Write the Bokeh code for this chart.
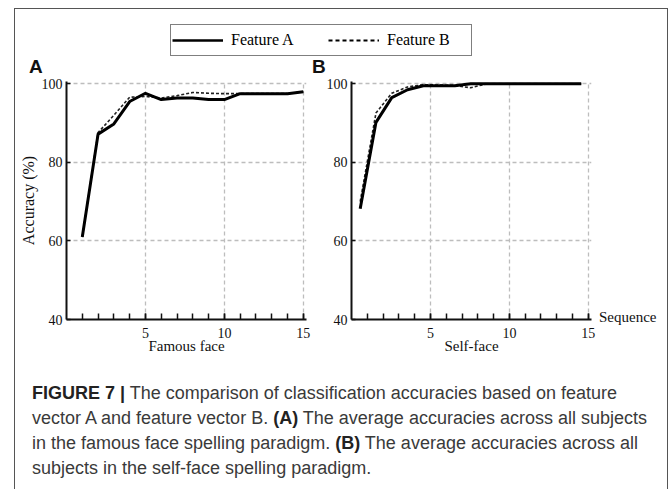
from bokeh.plotting import figure
from bokeh.models import Range1d, FixedTicker, Legend, LegendItem, Div, Spacer
from bokeh.layouts import column, row
from bokeh.embed import file_html
from bokeh.resources import INLINE

# ---- data ----
seq = [1, 2, 3, 4, 5, 6, 7, 8, 9, 10, 11, 12, 13, 14, 15]
seq_self = [0.55, 1.55, 2.55, 3.55, 4.55, 5.55, 6.55, 7.55, 8.55, 9.55, 10.55, 11.55, 12.55, 13.55, 14.55]
famous_a = [61.0, 87.2, 89.8, 95.5, 97.6, 96.0, 96.4, 96.4, 96.0, 96.0, 97.5, 97.5, 97.5, 97.5, 98.0]
famous_b = [61.0, 87.6, 92.0, 96.6, 96.8, 96.4, 97.0, 97.8, 97.6, 97.5, 97.5, 97.5, 97.5, 97.5, 98.0]
self_a = [68.2, 90.2, 96.5, 98.5, 99.5, 99.5, 99.5, 100.0, 100.0, 100.0, 100.0, 100.0, 100.0, 100.0, 100.0]
self_b = [70.0, 92.6, 97.6, 99.2, 99.8, 99.7, 99.6, 99.0, 100.0, 100.0, 100.0, 100.0, 100.0, 100.0, 100.0]
x_major = [5, 10, 15]
y_major = [40, 60, 80, 100]
grid_y = [60, 80, 100]
series_names = ["Feature A", "Feature B"]
panel_names = ["A", "B"]
x_titles = ["Famous face", "Self-face"]
y_title = "Accuracy (%)"
x_unit = "Sequence"

SERIF = "Liberation Serif"
SANS = "Liberation Sans"
INK = "#111111"
FRAME = "#555555"
NAN = float("nan")


def panel(xs, ya, yb, xlabel, ylabel, left, right):
    p = figure(frame_width=240, frame_height=238, title=None,
               x_range=Range1d(0, 15.2), y_range=Range1d(40, 100.6),
               output_backend="svg", toolbar_location=None,
               min_border_left=left, min_border_right=right,
               min_border_top=5, min_border_bottom=37)
    p.outline_line_color = None
    p.xgrid.ticker = FixedTicker(ticks=x_major)
    p.ygrid.ticker = FixedTicker(ticks=grid_y)
    for g in (p.xgrid, p.ygrid):
        g.grid_line_color = "#bdbdbd"
        g.grid_line_width = 1.3
        g.grid_line_dash = "4 3"
    xa = p.xaxis[0]
    xa.ticker = FixedTicker(ticks=x_major, minor_ticks=seq)
    xa.axis_line_width = 2
    xa.axis_line_color = INK
    xa.major_tick_in = 6
    xa.major_tick_out = 0
    xa.minor_tick_in = 6
    xa.minor_tick_out = 0
    xa.major_tick_line_width = 1.5
    xa.minor_tick_line_width = 1.5
    xa.major_tick_line_color = INK
    xa.minor_tick_line_color = INK
    xa.major_label_text_font = SERIF
    xa.major_label_text_font_size = "14px"
    xa.major_label_text_color = INK
    xa.major_label_standoff = 8
    xa.axis_label = xlabel
    xa.axis_label_text_font = SERIF
    xa.axis_label_text_font_size = "15px"
    xa.axis_label_text_font_style = "normal"
    xa.axis_label_text_color = INK
    xa.axis_label_standoff = -3
    yx = p.yaxis[0]
    yx.ticker = FixedTicker(ticks=y_major)
    yx.axis_line_width = 2
    yx.axis_line_color = INK
    yx.major_tick_in = 4
    yx.major_tick_out = 0
    yx.minor_tick_line_color = None
    yx.major_tick_line_width = 1.5
    yx.major_tick_line_color = INK
    yx.major_label_text_font = SERIF
    yx.major_label_text_font_size = "14px"
    yx.major_label_text_color = INK
    yx.major_label_standoff = 4
    if ylabel:
        yx.axis_label = ylabel
        yx.axis_label_text_font = SERIF
        yx.axis_label_text_font_size = "16px"
        yx.axis_label_text_font_style = "normal"
        yx.axis_label_text_color = INK
        yx.axis_label_standoff = 2
    p.line(xs, yb, line_color="#222222", line_width=1.6, line_dash="3 2")
    p.line(xs, ya, line_color="black", line_width=3, line_join="round")
    return p


pa = panel(seq, famous_a, famous_b, x_titles[0], y_title, 51, 12)
pb = panel(seq_self, self_a, self_b, x_titles[1], None, 33, 8)

seq_div = Div(text=x_unit, width=68, height=20, margin=0,
              styles={"font-family": "'Liberation Serif', serif", "font-size": "15px",
                      "line-height": "17px", "color": INK, "white-space": "nowrap"})
seq_col = column(Spacer(width=68, height=233, margin=0), seq_div, margin=0)

# ---- header: legend ----
h = figure(width=652, height=49, x_range=Range1d(0, 652), y_range=Range1d(0, 49),
           x_axis_type=None, y_axis_type=None, min_border=0, title=None,
           output_backend="svg", toolbar_location=None)
h.outline_line_color = None
h.grid.visible = False
ra = h.line(x=[NAN], y=[NAN], line_color="black", line_width=2.5)
rb = h.line(x=[NAN], y=[NAN], line_color="black", line_width=2, line_dash="4 3")
legend = Legend(items=[LegendItem(label=series_names[0], renderers=[ra]),
                       LegendItem(label=series_names[1], renderers=[rb])],
                orientation="horizontal", location=(155, 2), margin=0,
                padding=1, spacing=14, glyph_width=51, glyph_height=28,
                label_standoff=8, label_width=83, label_height=28,
                label_text_font=SERIF, label_text_font_size="16px",
                label_text_color="black", border_line_color="black",
                border_line_width=1.5, background_fill_color="white",
                background_fill_alpha=1.0)
h.add_layout(legend)

# ---- panel letters ----
letter_style = {"font-family": "'Liberation Sans', Arial, sans-serif", "font-size": "19px",
                "font-weight": "bold", "line-height": "18px", "color": INK,
                "white-space": "nowrap"}
letter_a = Div(text=f"<div style='padding-left:14px'>{panel_names[0]}</div>",
               width=283, height=18, margin=0, styles=letter_style)
letter_b = Div(text=f"<div style='padding-left:14px'>{panel_names[1]}</div>",
               width=369, height=18, margin=0, styles=letter_style)

caption_html = (
    "<div style=\"padding:25px 0 0 17px;font-family:'Liberation Sans',Arial,sans-serif;"
    "font-size:18px;line-height:25px;color:#3a3a3a;white-space:nowrap\">"
    "<b style=\"color:#222\">FIGURE 7 |</b> The comparison of classification accuracies based on feature<br>"
    "vector A and feature vector B. <b style=\"color:#222\">(A)</b> The average accuracies across all subjects<br>"
    "in the famous face spelling paradigm. <b style=\"color:#222\">(B)</b> The average accuracies across all<br>"
    "subjects in the self-face spelling paradigm.</div>"
)
cap = Div(text=caption_html, width=652, height=133, margin=0)

inner = column(h, row(letter_a, letter_b, margin=0), row(pa, pb, seq_col, margin=0), cap, margin=0)
vl = Div(text="", width=1, height=480, margin=0, styles={"background-color": FRAME})
vr = Div(text="", width=1, height=480, margin=0, styles={"background-color": FRAME})
top = Div(text="", width=654, height=1, margin=0, styles={"background-color": FRAME})
page = row(Spacer(width=14, height=10, margin=0),
           column(Spacer(width=10, height=8, margin=0), top,
                  row(vl, inner, vr, margin=0), margin=0), margin=0)

open("out.html", "w").write(file_html(page, INLINE))
